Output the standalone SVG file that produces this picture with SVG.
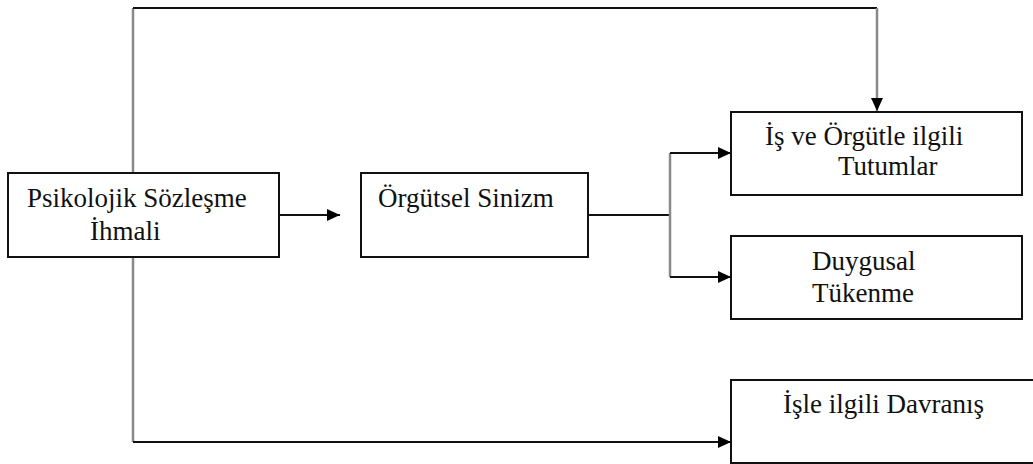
<svg xmlns="http://www.w3.org/2000/svg" width="1033" height="464" viewBox="0 0 1033 464">
<style>
.box{fill:#fff;stroke:#111;stroke-width:2}
.t{font-family:'Liberation Serif','DejaVu Serif',serif;font-size:27px;fill:#111}
.h{fill:none;stroke:#111;stroke-width:2}
.v{fill:none;stroke:#8a8a8a;stroke-width:2.5}
</style>
<defs>
<marker id="arr" markerWidth="14" markerHeight="12" refX="13" refY="6" orient="auto" markerUnits="userSpaceOnUse">
<path d="M0,0 L13,6 L0,12 Z" fill="#000"/>
</marker>
</defs>
<rect width="1033" height="464" fill="#fff"/>
<g id="connectors">
<path class="v" d="M133,173 V8"/>
<path class="h" d="M133,8 H877"/>
<path class="v" d="M877,8 V111" marker-end="url(#arr)"/>
<path class="v" d="M133,257 V442"/>
<path class="h" d="M133,442 H731" marker-end="url(#arr)"/>
<path class="h" d="M279,215 H340" marker-end="url(#arr)"/>
<path class="h" d="M588,215 H670"/>
<path class="v" d="M670,153 V277"/>
<path class="h" d="M670,153 H731" marker-end="url(#arr)"/>
<path class="h" d="M670,277 H731" marker-end="url(#arr)"/>
</g>
<g id="node-psikolojik">
<rect class="box" x="8" y="173" width="271" height="84"/>
<text class="t" x="27" y="207">Psikolojik Sözleşme</text>
<text class="t" x="90" y="240">İhmali</text>
</g>
<g id="node-orgutsel">
<rect class="box" x="361" y="173" width="227" height="84"/>
<text class="t" x="378" y="207">Örgütsel Sinizm</text>
</g>
<g id="node-tutumlar">
<rect class="box" x="731" y="112" width="291" height="83"/>
<text class="t" x="765" y="145">İş ve Örgütle ilgili</text>
<text class="t" x="838" y="175">Tutumlar</text>
</g>
<g id="node-duygusal">
<rect class="box" x="731" y="236" width="291" height="83"/>
<text class="t" x="812" y="270">Duygusal</text>
<text class="t" x="812" y="302">Tükenme</text>
</g>
<g id="node-davranis">
<rect class="box" x="731" y="380" width="320" height="83"/>
<text class="t" x="783" y="413">İşle ilgili Davranış</text>
</g>
</svg>
